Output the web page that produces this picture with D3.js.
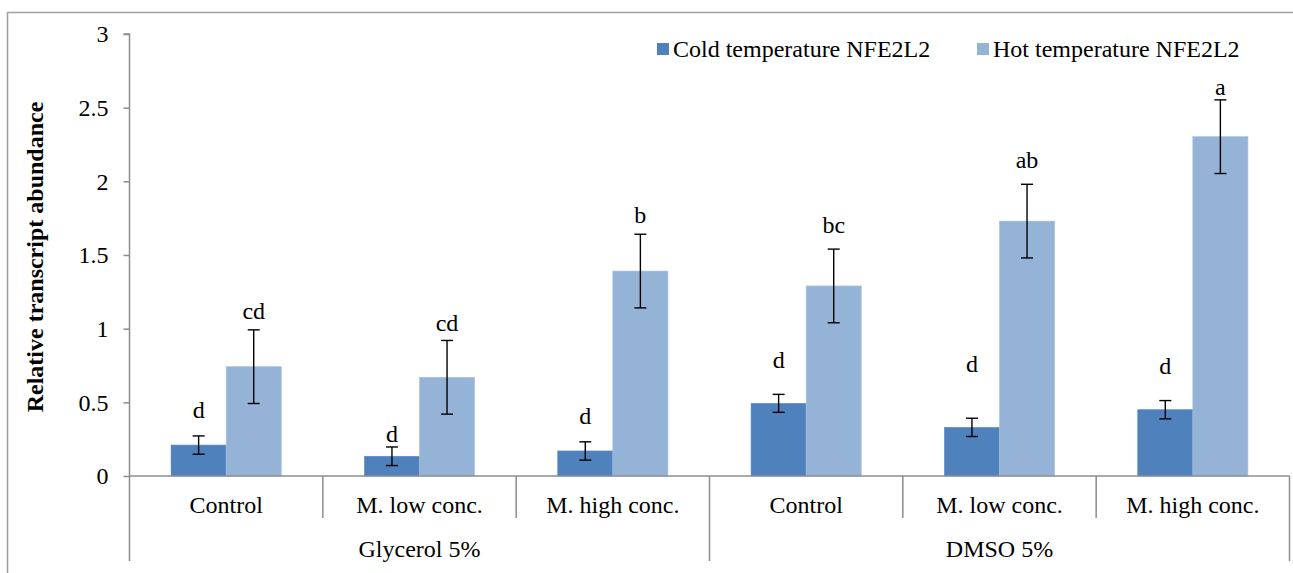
<!DOCTYPE html>
<html><head><meta charset="utf-8">
<script src="https://cdn.jsdelivr.net/npm/d3@7/dist/d3.min.js"></script>
<style>body{margin:0;background:#fff}svg text{font-family:"Liberation Serif","Times New Roman","DejaVu Serif",serif !important}</style>
</head><body><svg id="c" width="1293" height="573"></svg>
<script>
const groups = ["Glycerol 5%", "DMSO 5%"];
const categories = ["Control", "M. low conc.", "M. high conc.", "Control", "M. low conc.", "M. high conc."];
const seriesNames = ["Cold temperature NFE2L2", "Hot temperature NFE2L2"];
const coldValues = [0.21, 0.134, 0.17, 0.493, 0.33, 0.45];
const coldErrors = [0.062, 0.063, 0.062, 0.061, 0.062, 0.062];
const hotValues = [0.742, 0.67, 1.391, 1.29, 1.73, 2.303];
const hotErrors = [0.25, 0.25, 0.25, 0.25, 0.25, 0.25];
const coldLetters = ["d", "d", "d", "d", "d", "d"];
const hotLetters = ["cd", "cd", "b", "bc", "ab", "a"];
const coldLetterAt = [0.448, 0.29, 0.41, 0.792, 0.765, 0.75];
const hotLetterAt = [1.12, 1.04, 1.772, 1.704, 2.145, 2.645];
const yTicks = [0, 0.5, 1, 1.5, 2, 2.5, 3];

const FONT = '"Liberation Serif","Times New Roman",serif';
const svg = d3.select("#c").attr("font-family", FONT);
const axisCol = "#8c8c8c";
const L = 129.5, R = 1289.5, T = 34, B = 476;
// frame
svg.append("path").attr("d", `M7.5,573 V12.5 H1293`).attr("fill","none").attr("stroke","#a0a0a0").attr("stroke-width",1.5);

const y = d3.scaleLinear().domain([0,3]).range([B,T]);
const idx = d3.range(categories.length);
const x0 = d3.scaleBand().domain(idx).range([L,R]).paddingInner(0).paddingOuter(0);
const x1 = d3.scaleBand().domain([0,1]).range([0, x0.bandwidth()]).paddingOuter(0.755).paddingInner(0);

const cols = ["#4F81BD", "#95B3D7"];
const series = [
  {vals: coldValues, errs: coldErrors, letters: coldLetters, at: coldLetterAt},
  {vals: hotValues, errs: hotErrors, letters: hotLetters, at: hotLetterAt}
];

// bars
series.forEach((s, si) => {
  const g = svg.append("g");
  g.selectAll("rect").data(idx).join("rect")
    .attr("x", i => x0(i) + x1(si))
    .attr("width", x1.bandwidth())
    .attr("y", i => y(s.vals[i]))
    .attr("height", i => B - y(s.vals[i]))
    .attr("fill", cols[si])
    .attr("stroke", si === 0 ? "#5a8ac4" : "#a7c1e0").attr("stroke-width", 0.6);
});

// y axis
const ya = svg.append("g").attr("transform", `translate(${L},0)`)
  .call(d3.axisLeft(y).tickValues(yTicks).tickSize(6).tickPadding(15).tickFormat(d3.format("")));
ya.attr("font-family", FONT).attr("font-size", 24);
ya.select(".domain").attr("stroke", axisCol).attr("stroke-width",1.5).attr("d", `M-6,${T}H0V${B}`);
ya.selectAll(".tick line").attr("stroke", axisCol).attr("stroke-width",1.5);
ya.selectAll(".tick text").attr("font-size", 24).attr("fill","#000");

// x axis line
svg.append("line").attr("x1", L).attr("x2", R).attr("y1", B).attr("y2", B).attr("stroke", axisCol).attr("stroke-width",1.5);
// separators
const bounds = d3.range(categories.length + 1).map(i => i < categories.length ? x0(i) : R);
bounds.forEach((bx, i) => {
  const long = (i === 0 || i === 3 || i === 6);
  svg.append("line").attr("x1", bx).attr("x2", bx).attr("y1", B).attr("y2", long ? 561 : 518)
    .attr("stroke", axisCol).attr("stroke-width",1.5);
});
// category labels
svg.append("g").selectAll("text").data(idx).join("text")
  .attr("x", i => x0(i) + x0.bandwidth()/2).attr("y", 513)
  .attr("text-anchor","middle").attr("font-size",24).text(i => categories[i]);
svg.append("g").selectAll("text").data(groups).join("text")
  .attr("x", (d,gi) => (x0(gi*3) + (gi*3+3 < categories.length ? x0(gi*3+3) : R))/2).attr("y", 557)
  .attr("text-anchor","middle").attr("font-size",24).text(d => d);

// error bars & letters
series.forEach((s, si) => {
  const g = svg.append("g");
  idx.forEach(i => {
    const cx = x0(i) + x1(si) + x1.bandwidth()/2;
    const y1 = y(s.vals[i] + s.errs[i]), y2 = y(s.vals[i] - s.errs[i]);
    g.append("line").attr("x1",cx).attr("x2",cx).attr("y1",y1).attr("y2",y2).attr("stroke","#000").attr("stroke-width",1.4);
    [y1,y2].forEach(yy => g.append("line").attr("x1",cx-6).attr("x2",cx+6).attr("y1",yy).attr("y2",yy).attr("stroke","#000").attr("stroke-width",1.4));
    g.append("text").attr("x", cx).attr("y", y(s.at[i])).attr("dy","0.35em")
      .attr("text-anchor","middle").attr("font-size",24).text(s.letters[i]);
  });
});

// y title
svg.append("text").attr("transform", "translate(43,257) rotate(-90)")
  .attr("text-anchor","middle").attr("font-size",24).attr("font-weight","bold").text("Relative transcript abundance");

// legend
const legX = [657, 977];
seriesNames.forEach((n, si) => {
  svg.append("rect").attr("x", legX[si]).attr("y", 43).attr("width", 12).attr("height", 12).attr("fill", cols[si]);
  svg.append("text").attr("x", legX[si] + 16).attr("y", 57).attr("font-size",24).text(n);
});
</script></body></html>
